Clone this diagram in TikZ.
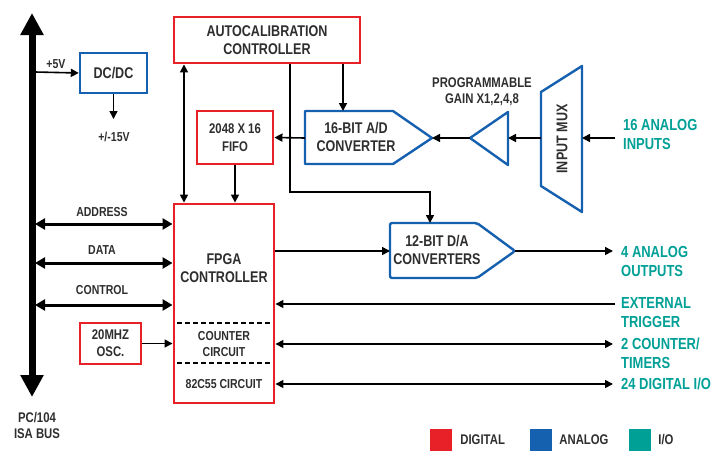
\documentclass[tikz,border=0pt]{standalone}
\usepackage{fontspec}
\setmainfont{Liberation Sans}[FakeStretch=0.81, UprightFont=*-Bold]
\usetikzlibrary{arrows.meta}
\usetikzlibrary{positioning}
\definecolor{digired}{RGB}{232,32,40}
\definecolor{anablue}{RGB}{22,96,176}
\definecolor{ioteal}{RGB}{0,160,150}
\tikzset{
  lbl/.style = {align=center, inner sep=0pt, text=black!82,
    font=\fontsize{15.5}{18}\selectfont},
  buslbl/.style = {lbl, font=\fontsize{13}{16}\selectfont},
  smalllbl/.style = {lbl, font=\fontsize{13}{16}\selectfont},
  digital/.style = {lbl, draw=digired, line width=2.9pt, fill=white},
  analog/.style = {draw=anablue, line width=2.4pt, line join=round},
  iotext/.style = {lbl, align=left, anchor=west, text=ioteal,
    font=\fontsize{16}{19}\selectfont},% sorties vertes
  wire/.style = {line width=1.6pt, -{Triangle[length=8pt,width=8pt]}},
  dwire/.style = {line width=1.6pt,
    {Triangle[length=8pt,width=8pt]}-{Triangle[length=8pt,width=8pt]}},
  buswire/.style = {line width=3pt,
    {Triangle[length=10pt,width=11pt]}-{Triangle[length=10pt,width=11pt]}},
  legsq/.style = {minimum size=22pt, inner sep=0pt},
}
\begin{document}
\begin{tikzpicture}[x=1pt,y=-1pt]
\useasboundingbox (0,0) rectangle (727,450);

% bus PC/104
\coordinate (bustop) at (32,13);
\coordinate (busbot) at (32,397);
\draw[line width=7pt, {Triangle[length=22pt,width=22pt]}-{Triangle[length=22pt,width=22pt]}]
  (bustop) -- (busbot);
\node[lbl, font=\fontsize{14}{16}\selectfont] (buslbl) at (37,425) {PC/104\\ISA BUS};

% blocs numeriques
\node[digital, minimum width=186pt, minimum height=46pt] (autocal) at (267,40)
  {AUTOCALIBRATION\\CONTROLLER};
\node[digital, minimum width=76pt, minimum height=53pt, font=\fontsize{14}{18}\selectfont]
  (fifo) at (235,137.5) {2048 X 16\\FIFO};
\node[digital, minimum width=100pt, minimum height=199pt] (fpga) at (224,303.5) {};
\node[lbl] (fpgalbl) at (224,268) {FPGA\\CONTROLLER};
\node[smalllbl] (cntlbl) at (224,344) {COUNTER\\CIRCUIT};
\node[smalllbl] (dio) at (224,384) {82C55 CIRCUIT};
\draw[line width=1.8pt, dash pattern=on 5pt off 3pt] (177,323) -- (271,323);
\draw[line width=1.8pt, dash pattern=on 5pt off 3pt] (177,363) -- (271,363);
\node[digital, minimum width=61pt, minimum height=41pt, font=\fontsize{14}{17}\selectfont]
  (osc) at (110.5,343.5) {20MHZ\\OSC.};

% blocs analogiques
\node[lbl, draw=anablue, line width=2.4pt, minimum width=67pt, minimum height=40pt]
  (dcdc) at (113.5,73) {DC/DC};
\draw[analog] (305,111) -- (393,111) -- (432,138) -- (393,164) -- (305,164) -- cycle;
\coordinate (adctip) at (432,138);
\node[lbl] (adc) at (356,137) {16-BIT A/D\\CONVERTER};
\draw[analog, rounded corners=2pt] (390,223) -- (477,223) -- (515,251) -- (477,278)
  -- (390,278) -- cycle;
\coordinate (dactip) at (515,251);
\node[lbl] (dac) at (437,250) {12-BIT D/A\\CONVERTERS};
\draw[analog] (508,112) -- (470,138) -- (508,165) -- cycle;
\coordinate (gaintip) at (470,138);
\coordinate (gainbase) at (508,138);
\node[lbl, font=\fontsize{14}{16}\selectfont] (gainlbl) at (482,92)
  {PROGRAMMABLE\\GAIN X1,2,4,8};
\draw[analog] (541,92) -- (582,66) -- (582,212) -- (541,186) -- cycle;
\coordinate (muxin) at (582,138);
\coordinate (muxout) at (541,138);
\node[lbl, rotate=90] (mux) at (562,139) {INPUT MUX};

% alimentation
\coordinate (bus5v) at (35,72);
\node[smalllbl] (v5) at (56,64) {+5V};
\draw[wire] (bus5v) -- (dcdc.west);
\coordinate (m15) at (dcdc.south |- 0,119);
\draw[wire] (dcdc.south) -- (m15);
\node[smalllbl] (m15lbl) at (114,137) {+/-15V};

% liaisons internes
\draw[dwire] (autocal.south -| 184,0) -- (fpga.north -| 184,0);
\draw[wire] (autocal.south -| adc) ++(-13,0) coordinate (acal) -- (acal |- 0,111);
\draw[wire] (autocal.south -| 290,0) -- (290,192) -- (430,192) -- (430,223);
\draw[wire] (305,138) -- (fifo.east);
\draw[wire] (fifo.south) -- (fifo.south |- fpga.north);
\draw[wire] (gaintip) -- (adctip);
\draw[wire] (muxout) -- (gainbase);
\draw[wire] (fpga.east |- 0,251) -- (390,251);
\draw[wire] (osc.east) -- (osc.east -| fpga.west);

% bus ISA
\coordinate (addr) at (35,224);
\coordinate (data) at (35,263);
\coordinate (ctrl) at (35,305);
\draw[buswire] (addr) -- (addr -| fpga.west);
\draw[buswire] (data) -- (data -| fpga.west);
\draw[buswire] (ctrl) -- (ctrl -| fpga.west);
\node[buslbl] (addrlbl) at (102,212) {ADDRESS};
\node[buslbl] (datalbl) at (102,250) {DATA};
\node[buslbl] (ctrllbl) at (102,290) {CONTROL};

% entrees / sorties
\coordinate (ainp) at (615,138);
\coordinate (aout) at (613,251);
\coordinate (trig) at (615,304);
\coordinate (ctout) at (613,344);
\coordinate (dout) at (613,384);
\draw[wire] (ainp) -- (muxin);
\draw[wire] (dactip) -- (aout);
\draw[wire] (trig) -- (trig -| fpga.east);
\draw[dwire] (ctout -| fpga.east) -- (ctout);
\draw[dwire] (dout -| fpga.east) -- (dout);
\node[iotext] (ainlbl) at (623,134) {16 ANALOG\\INPUTS};
\node[iotext] (aoutlbl) at (621,261) {4 ANALOG\\OUTPUTS};
\node[iotext] (triglbl) at (621,313) {EXTERNAL\\TRIGGER};
\node[iotext] (ctlbl) at (621,353) {2 COUNTER/\\TIMERS};
\node[iotext] (diolbl) at (621,384) {24 DIGITAL I/O};

% legende
\node[legsq, fill=digired] (legdig) at (441,440) {};
\node[lbl, right=8pt of legdig, font=\fontsize{14}{17}\selectfont] (legdiglbl) {DIGITAL};
\node[legsq, fill=anablue] (legana) at (541,440) {};
\node[lbl, right=7pt of legana, font=\fontsize{14}{17}\selectfont] (leganalbl) {ANALOG};
\node[legsq, fill=ioteal] (legio) at (640,440) {};
\node[lbl, right=7pt of legio, font=\fontsize{14}{17}\selectfont] (legiolbl) {I/O};
\end{tikzpicture}
\end{document}
